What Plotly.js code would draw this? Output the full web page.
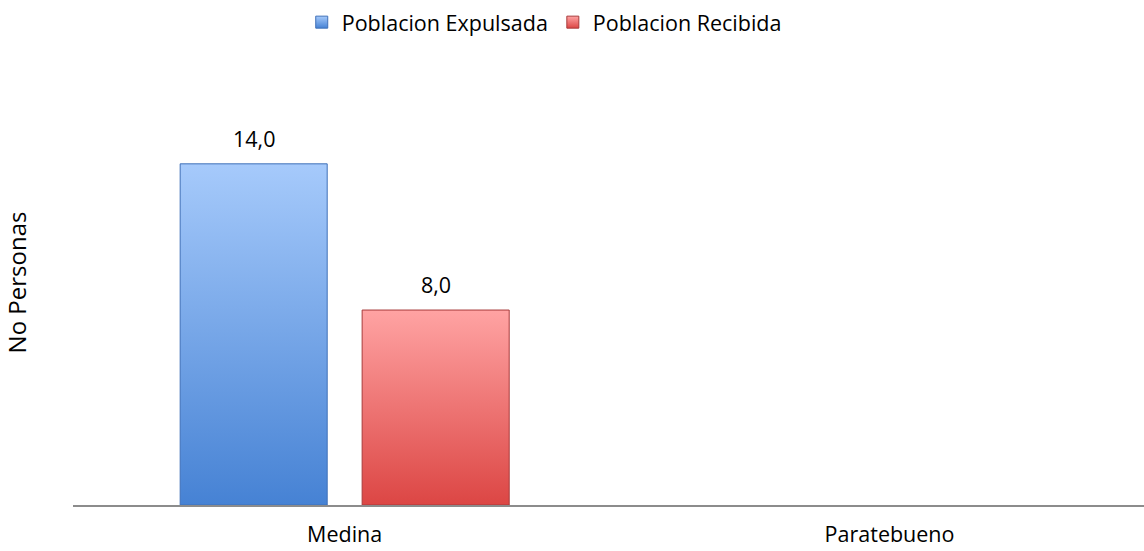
<!DOCTYPE html>
<html>
<head>
<meta charset="utf-8">
<script src="https://cdn.plot.ly/plotly-3.0.1.min.js"></script>
<style>html,body{margin:0;padding:0;background:#fff;}#chart{width:1144px;height:551px;}</style>
</head>
<body>
<div id="chart"></div>
<script>
const categories = ["Medina", "Paratebueno"];
const seriesNames = ["Poblacion Expulsada", "Poblacion Recibida"];
const expulsada = [14.0, null];
const recibida = [8.0, null];
const yTitle = "No Personas";

const FONT = "'Open Sans', sans-serif";
const FS = 21.5;
const bargap = 0.332, bargroupgap = 0.192;
const slot = (1 - bargap) / 2;
const grads = [["#a6cafb", "#4682d4", "#3f70b8"], ["#ffa3a3", "#dc4644", "#a83a3a"]];

const traces = [
  {type: "bar", name: seriesNames[0], x: categories, y: expulsada,
   marker: {color: "#76a6eb", line: {color: grads[0][2], width: 1}}},
  {type: "bar", name: seriesNames[1], x: categories, y: recibida,
   marker: {color: "#ef7472", line: {color: grads[1][2], width: 1}}}
];

const annotations = [];
[expulsada, recibida].forEach((vals, si) => {
  vals.forEach((v, ci) => {
    if (v === null) return;
    annotations.push({x: ci + (si - 0.5) * slot, y: v, xref: "x", yref: "y",
      text: v.toFixed(1).replace(".", ","), showarrow: false, yanchor: "bottom", yshift: 9,
      font: {family: FONT, size: FS, color: "#000"}});
  });
});

const layout = {
  width: 1144, height: 551,
  margin: {l: 73, r: 0, t: 60, b: 45.5},
  paper_bgcolor: "#fff", plot_bgcolor: "#fff",
  barmode: "group", bargap: bargap, bargroupgap: bargroupgap,
  font: {family: FONT, size: FS, color: "#000"},
  showlegend: true,
  legend: {orientation: "h", x: 0.44, xanchor: "center", y: 1.085, yanchor: "middle",
    font: {family: FONT, size: FS, color: "#000"}, itemwidth: 30, tracegroupgap: 0},
  xaxis: {type: "category", range: [-0.4986, 1.467], showline: true, linecolor: "#8c8c8c", linewidth: 2,
    ticks: "", showgrid: false, zeroline: false, ticklabelstandoff: 9,
    tickfont: {family: FONT, size: FS, color: "#000"}},
  yaxis: {range: [0, 18.26], showticklabels: false, showgrid: false, zeroline: false, showline: false, ticks: "",
    title: {text: yTitle, font: {family: FONT, size: 24, color: "#000"}, standoff: 38}},
  annotations: annotations
};

function applyGradients(gd) {
  const svg = gd.querySelector("svg.main-svg");
  if (!svg) return;
  const NS = "http://www.w3.org/2000/svg";
  let defs = svg.querySelector("defs");
  if (!defs) { defs = document.createElementNS(NS, "defs"); svg.insertBefore(defs, svg.firstChild); }
  grads.forEach((g, i) => {
    const lg = document.createElementNS(NS, "linearGradient");
    lg.setAttribute("id", "bargrad" + i);
    lg.setAttribute("x1", "0"); lg.setAttribute("y1", "0"); lg.setAttribute("x2", "0"); lg.setAttribute("y2", "1");
    [[0, g[0]], [1, g[1]]].forEach(([o, c]) => {
      const st = document.createElementNS(NS, "stop");
      st.setAttribute("offset", o); st.setAttribute("stop-color", c);
      lg.appendChild(st);
    });
    defs.appendChild(lg);
  });
  gd.querySelectorAll(".barlayer .trace").forEach((tr, i) => {
    tr.querySelectorAll("path").forEach(p => { p.style.fill = "url(#bargrad" + i + ")"; });
  });
  gd.querySelectorAll(".legend .traces").forEach((tr, i) => {
    tr.querySelectorAll(".legendpoints path").forEach(p => { p.style.fill = "url(#bargrad" + i + ")"; });
  });
}

Plotly.newPlot("chart", traces, layout, {displayModeBar: false, staticPlot: true}).then(applyGradients);
</script>
</body>
</html>
